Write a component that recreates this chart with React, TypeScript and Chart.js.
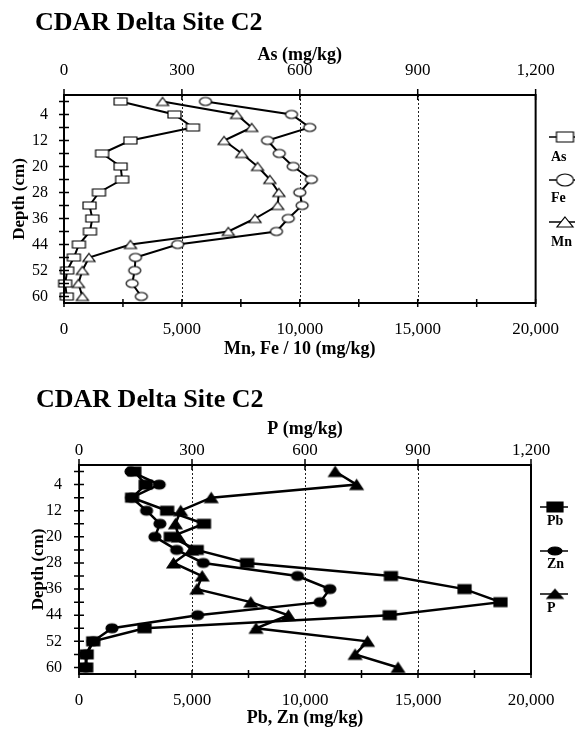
import React, { useEffect, useRef } from 'react';
import { Chart, registerables } from 'chart.js';
Chart.register(...registerables);

const FONT = "'Liberation Serif', 'Times New Roman', serif";

// ---------- shared depth axis ----------
const depths = [0, 4, 8, 12, 16, 20, 24, 28, 32, 36, 40, 44, 48, 52, 56, 60];
const depthTickLabels = ['4', '12', '20', '28', '36', '44', '52', '60'];

// ---------- top panel: As / Fe / Mn ----------
const asValues = [144, 281, 328, 169, 97, 144, 148, 89, 65, 72, 66, 38, 25, 8, 3, 7]; // As mg/kg (top axis)
const feDiv10Values = [6000, 9650, 10420, 8630, 9130, 9720, 10490, 10000, 10100, 9510, 9010, 4820, 3030, 3000, 2890, 3280];
const mnValues = [4180, 7320, 7960, 6790, 7540, 8210, 8730, 9110, 9060, 8100, 6970, 2820, 1060, 780, 610, 780];

// ---------- bottom panel: Pb / Zn / P ----------
const pbValues = [2450, 2950, 2350, 3900, 5530, 4060, 5210, 7440, 13800, 17060, 18650, 13750, 2900, 630, 340, 320];
const znValues = [2300, 3550, 2330, 2990, 3580, 3360, 4320, 5500, 9670, 11100, 10670, 5250, 1460, 630, 300, 300];
const pValues = [680, 737, 351, 270, 256, 264, 299, 251, 327, 313, 456, 556, 470, 766, 733, 847]; // P mg/kg (top axis)

// ---------- axis ticks ----------
const lowerTickValues = [0, 5000, 10000, 15000, 20000];
const lowerTickLabels = ['0', '5,000', '10,000', '15,000', '20,000'];
const lowerMarks = [0, 2500, 5000, 7500, 10000, 12500, 15000, 17500, 20000];
const gridValues = [5000, 10000, 15000];
const upperTickValues = [0, 300, 600, 900, 1200];
const upperTickLabels = ['0', '300', '600', '900', '1,200'];

type Shape = 'rect' | 'ellipse' | 'triangle';

function makeMarker(shape: Shape, w: number, h: number, filled: boolean, lw: number): HTMLCanvasElement {
  const c = document.createElement('canvas');
  const pad = 2;
  c.width = w + pad * 2;
  c.height = h + pad * 2;
  const g = c.getContext('2d')!;
  g.lineWidth = lw;
  g.strokeStyle = '#000';
  g.fillStyle = filled ? '#000' : '#fff';
  g.beginPath();
  if (shape === 'rect') g.rect(pad, pad, w, h);
  else if (shape === 'ellipse') g.ellipse(pad + w / 2, pad + h / 2, w / 2, h / 2, 0, 0, Math.PI * 2);
  else {
    g.moveTo(pad + w / 2, pad);
    g.lineTo(pad + w, pad + h);
    g.lineTo(pad, pad + h);
    g.closePath();
  }
  g.fill();
  g.stroke();
  return c;
}

interface Series { label: string; values: number[]; axis: 'x' | 'x2'; shape: Shape; mw: number; mh: number; lw: number; lh: number; symY: number; labY: number; }

interface PanelSpec {
  canvasHeight: number;
  title: string; titleX: number; titleY: number;
  upperTitle: string; lowerTitle: string;
  yWidth: number; padRight: number; upperHeight: number; lowerHeight: number;
  yTitlePad: number; yTickPad: number; upperTickPad: number; upperTitlePad: number;
  lowerTickPad: number; lowerTitlePad: number;
  legLine: [number, number]; legMarkerX: number; legLabelX: number;
  filled: boolean; lineWidth: number;
  series: Series[];
}

const topSpec: PanelSpec = {
  canvasHeight: 370,
  title: 'CDAR Delta Site C2', titleX: 35, titleY: 30,
  upperTitle: 'As (mg/kg)', lowerTitle: 'Mn, Fe / 10 (mg/kg)',
  yWidth: 64, padRight: 38, upperHeight: 95, lowerHeight: 67,
  yTitlePad: 9, yTickPad: 16, upperTickPad: 14, upperTitlePad: 44.5,
  lowerTickPad: 16, lowerTitlePad: 10,
  legLine: [549, 575], legMarkerX: 565, legLabelX: 551,
  filled: false, lineWidth: 2,
  series: [
    { label: 'As', values: asValues, axis: 'x2', shape: 'rect', mw: 13, mh: 7, lw: 17, lh: 10, symY: 137, labY: 157 },
    { label: 'Fe', values: feDiv10Values, axis: 'x', shape: 'ellipse', mw: 12, mh: 8, lw: 17, lh: 12, symY: 180, labY: 198 },
    { label: 'Mn', values: mnValues, axis: 'x', shape: 'triangle', mw: 12, mh: 8, lw: 16, lh: 10, symY: 222, labY: 242 },
  ],
};

const bottomSpec: PanelSpec = {
  canvasHeight: 359,
  title: 'CDAR Delta Site C2', titleX: 36, titleY: 37,
  upperTitle: 'P (mg/kg)', lowerTitle: 'Pb, Zn (mg/kg)',
  yWidth: 79, padRight: 44, upperHeight: 95, lowerHeight: 55,
  yTitlePad: 28, yTickPad: 17, upperTickPad: 4, upperTitlePad: 49,
  lowerTickPad: 16, lowerTitlePad: 0,
  legLine: [540, 568], legMarkerX: 555, legLabelX: 547,
  filled: true, lineWidth: 2.5,
  series: [
    { label: 'Pb', values: pbValues, axis: 'x', shape: 'rect', mw: 13, mh: 9, lw: 16, lh: 10, symY: 137, labY: 151 },
    { label: 'Zn', values: znValues, axis: 'x', shape: 'ellipse', mw: 12, mh: 9, lw: 14, lh: 8, symY: 181, labY: 194 },
    { label: 'P', values: pValues, axis: 'x2', shape: 'triangle', mw: 13, mh: 10, lw: 16, lh: 9, symY: 224, labY: 238 },
  ],
};

function decorPlugin(spec: PanelSpec) {
  return {
    id: 'decor',
    beforeDatasetsDraw(chart: any) {
      const { ctx, chartArea: a } = chart;
      const sx = chart.scales.x;
      ctx.save();
      ctx.strokeStyle = '#222';
      ctx.lineWidth = 1;
      ctx.setLineDash([2, 2]);
      gridValues.forEach((v) => {
        const px = Math.round(sx.getPixelForValue(v)) + 0.5;
        ctx.beginPath();
        ctx.moveTo(px, a.top);
        ctx.lineTo(px, a.bottom);
        ctx.stroke();
      });
      ctx.restore();
    },
    afterDraw(chart: any) {
      const { ctx, chartArea: a } = chart;
      const sx = chart.scales.x, sx2 = chart.scales.x2, sy = chart.scales.y;
      ctx.save();
      ctx.setLineDash([]);
      ctx.strokeStyle = '#000';
      ctx.lineWidth = 2;
      ctx.strokeRect(a.left, a.top, a.right - a.left, a.bottom - a.top);
      ctx.lineWidth = 1.5;
      ctx.beginPath();
      depths.forEach((d) => {
        const py = sy.getPixelForValue(d);
        ctx.moveTo(a.left - 5, py);
        ctx.lineTo(a.left + 5, py);
      });
      lowerMarks.forEach((v) => {
        const px = sx.getPixelForValue(v);
        ctx.moveTo(px, a.bottom - 4);
        ctx.lineTo(px, a.bottom + 4);
      });
      upperTickValues.forEach((v) => {
        const px = sx2.getPixelForValue(v);
        ctx.moveTo(px, a.top - 6);
        ctx.lineTo(px, a.top + 5);
      });
      ctx.stroke();

      ctx.fillStyle = '#000';
      ctx.textAlign = 'left';
      ctx.textBaseline = 'alphabetic';
      ctx.font = `bold 26px ${FONT}`;
      ctx.fillText(spec.title, spec.titleX, spec.titleY);

      spec.series.forEach((s) => {
        ctx.lineWidth = 1.5;
        ctx.beginPath();
        ctx.moveTo(spec.legLine[0], s.symY);
        ctx.lineTo(spec.legLine[1], s.symY);
        ctx.stroke();
        const m = makeMarker(s.shape, s.lw, s.lh, spec.filled, 1.2);
        ctx.drawImage(m, spec.legMarkerX - m.width / 2, s.symY - m.height / 2);
        ctx.font = `bold 14px ${FONT}`;
        ctx.textBaseline = 'middle';
        ctx.fillText(s.label, spec.legLabelX, s.labY);
      });
      ctx.restore();
    },
  };
}

function buildChart(canvas: HTMLCanvasElement, spec: PanelSpec) {
  const datasets = spec.series.map((s) => ({
    label: s.label,
    data: depths.map((d, i) => ({ x: s.values[i], y: d })),
    xAxisID: s.axis,
    yAxisID: 'y',
    borderColor: '#000',
    borderWidth: spec.lineWidth,
    backgroundColor: '#000',
    pointStyle: makeMarker(s.shape, s.mw, s.mh, spec.filled, 1.2),
    pointRadius: 6,
    pointHoverRadius: 6,
    tension: 0,
    fill: false,
    clip: false as any,
  }));
  const tickFont = { family: FONT, size: 17 };
  const yTickFont = { family: FONT, size: 16 };
  const titleFont = { family: FONT, size: 18, weight: 'bold' as const };
  const yTitleFont = { family: FONT, size: 17, weight: 'bold' as const };
  return new Chart(canvas, {
    type: 'line',
    data: { datasets } as any,
    options: {
      animation: false,
      responsive: false,
      maintainAspectRatio: false,
      indexAxis: 'y',
      events: [],
      layout: { padding: { left: 0, top: 0, right: spec.padRight, bottom: 0 } },
      plugins: { legend: { display: false }, tooltip: { enabled: false }, title: { display: false } },
      scales: {
        x: {
          type: 'linear', position: 'bottom', min: 0, max: 20000,
          afterBuildTicks: (s: any) => { s.ticks = lowerTickValues.map((v) => ({ value: v })); },
          ticks: { font: tickFont, color: '#000', padding: spec.lowerTickPad, maxRotation: 0, autoSkip: false,
            callback: (_v: any, i: number) => lowerTickLabels[i] },
          grid: { display: false, drawTicks: false },
          border: { display: false },
          title: { display: true, text: spec.lowerTitle, font: titleFont, color: '#000', padding: { top: 0, bottom: spec.lowerTitlePad } },
          afterFit: (s: any) => { s.height = spec.lowerHeight; },
        },
        x2: {
          type: 'linear', position: 'top', min: 0, max: 1200,
          afterBuildTicks: (s: any) => { s.ticks = upperTickValues.map((v) => ({ value: v })); },
          ticks: { font: tickFont, color: '#000', padding: spec.upperTickPad, maxRotation: 0, autoSkip: false,
            callback: (_v: any, i: number) => upperTickLabels[i] },
          grid: { display: false, drawTicks: false },
          border: { display: false },
          title: { display: true, text: spec.upperTitle, font: titleFont, color: '#000', padding: { top: spec.upperTitlePad, bottom: 0 } },
          afterFit: (s: any) => { s.height = spec.upperHeight; },
        },
        y: {
          type: 'linear', position: 'left', reverse: true, min: -2, max: 62,
          afterBuildTicks: (s: any) => { s.ticks = depths.map((v) => ({ value: v })); },
          ticks: { font: yTickFont, color: '#000', padding: spec.yTickPad, autoSkip: false,
            callback: (v: any) => (depthTickLabels.includes(String(v)) ? String(v) : '') },
          grid: { display: false, drawTicks: false },
          border: { display: false },
          title: { display: true, text: 'Depth (cm)', font: yTitleFont, color: '#000', padding: { top: spec.yTitlePad, bottom: 0 } },
          afterFit: (s: any) => { s.width = spec.yWidth; },
        },
      },
    } as any,
    plugins: [decorPlugin(spec)],
  });
}

function Panel({ spec }: { spec: PanelSpec }) {
  const ref = useRef<HTMLCanvasElement>(null);
  useEffect(() => {
    const c = buildChart(ref.current!, spec);
    return () => c.destroy();
  }, [spec]);
  return (
    <canvas
      ref={ref}
      width={575}
      height={spec.canvasHeight}
      style={{ display: 'block', width: 575, height: spec.canvasHeight }}
    />
  );
}

export default function App() {
  return (
    <div style={{ position: 'absolute', left: 0, top: 0, width: 575, height: 729, overflow: 'hidden', background: '#fff' }}>
      <Panel spec={topSpec} />
      <Panel spec={bottomSpec} />
    </div>
  );
}
